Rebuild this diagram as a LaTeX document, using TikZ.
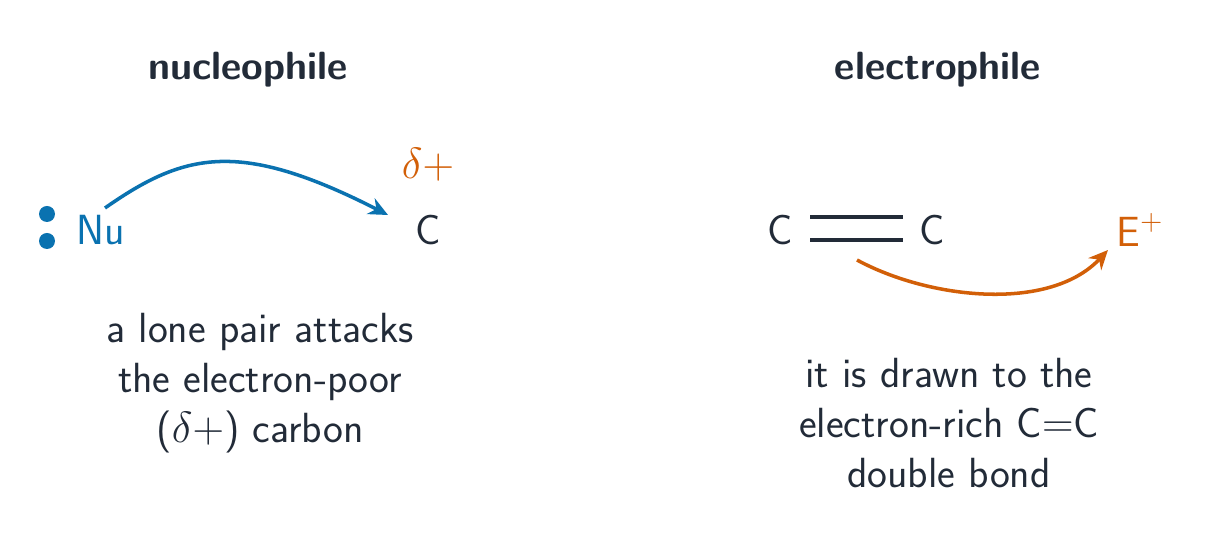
\documentclass[tikz,border=0pt]{standalone}
\usetikzlibrary{arrows.meta}
\definecolor{ink}{HTML}{222B38}
\definecolor{nuc}{HTML}{0A72B0}
\definecolor{ele}{HTML}{D25F08}
\begin{document}
\begin{tikzpicture}[
  txt/.style={font=\sffamily\fontsize{24}{28.5}\selectfont, text=ink, align=center},
  ttl/.style={font=\sffamily\bfseries\fontsize{22.4}{26}\selectfont, text=ink},
  atom/.style={font=\sffamily\fontsize{24}{28}\selectfont, inner sep=1pt},
  arr/.style={line width=2pt, -{Stealth[length=11pt,width=10pt]}},
  bond/.style={line width=2.2pt, ink}]
\useasboundingbox (0,0) rectangle (24.44,10.74);
\node[ttl] (t1) at (4.96,9.34) {nucleophile};
\node[ttl] (t2) at (18.76,9.34) {electrophile};
\fill[nuc] (0.94,6.46) circle (0.16);
\fill[nuc] (0.94,5.92) circle (0.16);
\node[atom, text=nuc] (nu) at (2.02,6.14) {Nu};
\node[atom, text=ink] (c0) at (8.56,6.14) {C};
\node[atom, text=ele] (d) at (8.56,7.44) {$\delta+$};
\coordinate (a1) at (2.1,6.58);
\coordinate (a2) at (7.76,6.44);
\draw[arr, nuc] (a1) .. controls (3.7,7.7) and (4.8,7.95) .. (a2);
\node[txt] (l1) at (5.2,3.08) {a lone pair attacks\\the electron-poor\\($\delta+$) carbon};
\node[atom, text=ink] (c1) at (15.6,6.14) {C};
\node[atom, text=ink] (c2) at (18.64,6.14) {C};
\draw[bond] (16.2,6.40) -- (18.06,6.40);
\draw[bond] (16.2,5.94) -- (18.06,5.94);
\node[atom, text=ele] (e) at (22.8,6.14) {E$^{+}$};
\coordinate (b1) at (17.14,5.54);
\coordinate (b2) at (22.16,5.74);
\draw[arr, ele] (b1) .. controls (18.6,4.75) and (21.0,4.5) .. (b2);
\node[txt] (l2) at (18.98,2.28) {it is drawn to the\\electron-rich C$=$C\\double bond};
\end{tikzpicture}
\end{document}
